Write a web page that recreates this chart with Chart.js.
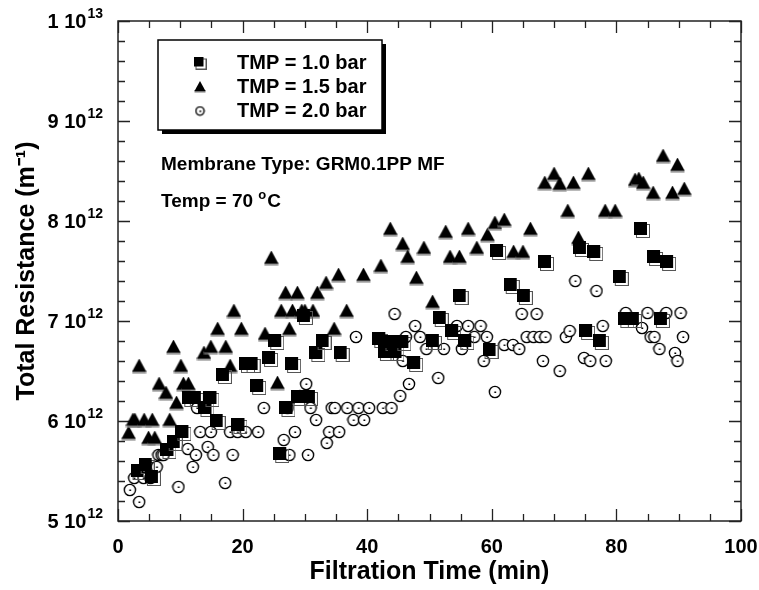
<!DOCTYPE html>
<html>
<head>
<meta charset="utf-8">
<script src="https://cdn.jsdelivr.net/npm/chart.js@4.4.1/dist/chart.umd.min.js"></script>
<style>
  html, body { margin: 0; padding: 0; background: #fff; }
  #chart { display: block; }
</style>
</head>
<body>
<canvas id="chart" width="759" height="590"></canvas>
<script>
// filtration time (min) / total resistance (in 10^12 m^-1)

// TMP = 1.0 bar (squares)
const time10 = [3.3, 4.6, 5.6, 8.1, 9.1, 10.5, 11.6, 12.5, 14.2, 15.0, 16.0, 17.0, 19.5, 20.7, 21.6, 22.5, 24.4, 25.4,
  26.2, 27.2, 28.1, 29.1, 30.0, 30.8, 32.0, 33.0, 35.9, 42.1, 43.0, 43.9, 44.7, 45.8, 47.7, 50.7, 51.8, 53.8, 55.0,
  55.9, 59.8, 61.0, 63.2, 65.3, 68.7, 74.3, 75.3, 76.6, 77.5, 80.7, 81.6, 82.8, 84.1, 86.2, 87.3, 88.3];
const res10 = [5.49, 5.55, 5.43, 5.70, 5.78, 5.88, 6.22, 6.22, 6.12, 6.22, 5.99, 6.45, 5.95, 6.56, 6.56, 6.34, 6.62, 6.79,
  5.66, 6.12, 6.56, 6.23, 7.04, 6.23, 6.67, 6.79, 6.67, 6.81, 6.68, 6.78, 6.68, 6.78, 6.57, 6.79, 7.02, 6.89, 7.24,
  6.79, 6.70, 7.69, 7.35, 7.24, 7.58, 7.72, 6.89, 7.68, 6.79, 7.43, 7.01, 7.01, 7.91, 7.63, 7.01, 7.58];

// TMP = 1.5 bar (triangles)
const time15 = [1.7, 2.4, 2.7, 3.4, 4.2, 4.9, 5.5, 5.9, 6.6, 7.7, 8.3, 8.9, 9.4, 10.1, 10.5, 11.3, 13.8, 14.9, 16.0,
  17.3, 18.0, 18.6, 19.8, 23.6, 24.6, 25.6, 26.2, 26.9, 27.5, 28.0, 28.8, 29.5, 30.0, 31.3, 32.0, 33.4, 34.7, 35.4,
  36.7, 39.4, 42.2, 43.7, 45.7, 46.5, 47.9, 49.1, 50.5, 52.6, 53.3, 54.8, 56.2, 57.6, 59.3, 60.5, 62.0, 63.5, 65.0,
  66.2, 68.5, 70.0, 70.9, 72.2, 73.1, 73.9, 75.5, 78.2, 79.8, 83.0, 83.6, 84.3, 85.9, 87.5, 89.0, 89.8, 90.9];
const res15 = [5.88, 6.01, 6.01, 6.55, 6.01, 5.83, 6.01, 5.83, 6.37, 6.28, 6.01, 6.74, 6.18, 6.55, 6.37, 6.37, 6.68, 6.74, 6.92,
  6.74, 6.55, 7.10, 6.92, 6.87, 7.63, 6.38, 7.10, 7.28, 6.92, 7.10, 7.28, 7.10, 7.10, 7.10, 7.28, 7.38, 6.92, 7.46,
  7.10, 7.46, 7.55, 7.92, 7.77, 7.64, 7.43, 7.73, 7.19, 7.89, 7.64, 7.64, 7.92, 7.73, 7.86, 7.98, 8.01, 7.69, 7.69,
  7.92, 8.38, 8.47, 8.37, 8.10, 8.38, 7.83, 8.47, 8.10, 8.10, 8.41, 8.42, 8.38, 8.28, 8.65, 8.28, 8.56, 8.32];

// TMP = 2.0 bar (open circles)
const time20 = [1.9, 2.6, 3.4, 4.1, 4.9, 5.2, 6.2, 6.5, 7.0, 7.3, 9.7, 11.2, 12.0, 12.5, 12.7, 13.2, 14.4, 14.9, 15.3,
  17.2, 18.0, 18.4, 19.2, 20.5, 22.5, 23.4, 26.6, 27.2, 27.5, 28.4, 29.2, 30.2, 30.5, 30.9, 31.8, 33.5, 33.9, 34.3,
  34.8, 35.5, 36.8, 37.8, 38.2, 38.6, 39.5, 40.3, 42.5, 43.4, 43.9, 44.4, 45.3, 45.7, 46.2, 46.7, 47.7, 48.5, 49.5,
  51.4, 52.3, 54.4, 55.2, 56.2, 57.2, 58.2, 58.7, 59.2, 60.5, 62.0, 63.4, 64.4, 64.8, 65.6, 66.7, 67.2, 67.7, 68.2,
  68.6, 70.9, 71.9, 72.5, 73.4, 74.8, 75.8, 76.8, 77.8, 78.3, 81.5, 84.1, 85.0, 85.5, 86.1, 86.9, 88.0, 89.4, 89.8,
  90.3, 90.7];
const res20 = [5.31, 5.43, 5.19, 5.43, 5.54, 5.43, 5.54, 5.66, 5.66, 5.66, 5.34, 5.72, 5.54, 5.66, 6.13, 5.89, 5.74, 5.89, 5.66,
  5.38, 5.89, 5.66, 5.89, 5.89, 5.89, 6.13, 5.81, 6.13, 5.66, 5.89, 6.25, 6.37, 5.66, 6.13, 6.01, 5.78, 5.89, 6.13,
  6.13, 5.89, 6.13, 6.01, 6.84, 6.13, 6.01, 6.13, 6.13, 6.72, 6.13, 7.07, 6.25, 6.60, 6.84, 6.37, 6.95, 6.84, 6.72,
  6.43, 6.72, 6.95, 6.72, 6.95, 6.84, 6.95, 6.60, 6.84, 6.29, 6.76, 6.76, 6.72, 7.07, 6.84, 6.84, 7.07, 6.84, 6.60,
  6.84, 6.50, 6.84, 6.90, 7.40, 6.63, 6.60, 7.30, 6.95, 6.60, 7.08, 6.93, 7.08, 6.84, 6.84, 6.72, 7.08, 6.68, 6.60,
  7.08, 6.84];

const seriesLabels = ['TMP = 1.0 bar', 'TMP = 1.5 bar', 'TMP = 2.0 bar'];
const xTickValues = [0, 20, 40, 60, 80, 100];
const yTickValues = [5, 6, 7, 8, 9, 10];
// y labels are "mantissa 10^exponent"
const yTickBase = ['5 10', '6 10', '7 10', '8 10', '9 10', '1 10'];
const yTickExp = ['12', '12', '12', '12', '12', '13'];
const xTitle = 'Filtration Time (min)';
const yTitle = 'Total Resistance (m⁻¹)';
const noteMembrane = 'Membrane Type: GRM0.1PP MF';
const noteTemp = ['Temp = 70 ', 'o', 'C'];

const FONT = '"Liberation Sans", Arial, Helvetica, sans-serif';

function toPoints(xs, ys) {
  return xs.map((x, i) => ({ x: x, y: ys[i] }));
}

// marker images
function squareMark(s) {
  const c = document.createElement('canvas');
  c.width = s + 3; c.height = s + 3;
  const g = c.getContext('2d');
  g.strokeStyle = '#555'; g.lineWidth = 1;
  g.strokeRect(2.5, 2.5, s, s);
  g.fillStyle = '#000';
  g.fillRect(0, 0, s, s);
  return c;
}
function triangleMark(s) {
  const c = document.createElement('canvas');
  const h = Math.round(s * 0.9);
  c.width = s + 1; c.height = h + 2;
  const g = c.getContext('2d');
  g.fillStyle = '#777';
  g.fillRect(0.5, h - 1, s, 2.5);
  g.fillStyle = '#000';
  g.beginPath();
  g.moveTo(s / 2 + 0.5, 0);
  g.lineTo(s + 0.5, h);
  g.lineTo(0.5, h);
  g.closePath();
  g.fill();
  return c;
}
function circleMark(s) {
  const c = document.createElement('canvas');
  c.width = s + 2; c.height = s + 2;
  const g = c.getContext('2d');
  const r = s / 2, cx = r + 1;
  g.fillStyle = '#fff';
  g.strokeStyle = '#000'; g.lineWidth = 1.4;
  g.beginPath(); g.arc(cx, cx, r - 0.4, 0, Math.PI * 2); g.fill(); g.stroke();
  g.fillStyle = '#000';
  g.fillRect(cx - 0.6, cx - 0.5, 1.8, 1.5);
  return c;
}

const marks = [squareMark(13), triangleMark(14), circleMark(12)];
const legendMarks = [squareMark(10), triangleMark(11), circleMark(9)];

const frameTicks = {
  id: 'frameTicks',
  beforeDatasetsDraw(chart) {
    const { ctx, chartArea: a, scales: { x, y } } = chart;
    ctx.save();
    ctx.strokeStyle = '#222';
    ctx.lineWidth = 1.5;
    ctx.strokeRect(a.left, a.top, a.right - a.left, a.bottom - a.top);
    ctx.lineWidth = 1.3;
    ctx.beginPath();
    x.ticks.forEach(t => {
      const px = Math.round(x.getPixelForValue(t.value)) + 0.5;
      const len = Math.abs(t.value % 20) < 1e-6 ? 12 : 7;
      ctx.moveTo(px, a.bottom); ctx.lineTo(px, a.bottom - len);
      ctx.moveTo(px, a.top); ctx.lineTo(px, a.top + len);
    });
    y.ticks.forEach(t => {
      const py = Math.round(y.getPixelForValue(t.value)) + 0.5;
      const major = Math.abs(t.value - Math.round(t.value)) < 1e-6;
      const len = major ? 12 : 7;
      ctx.moveTo(a.left, py); ctx.lineTo(a.left + len, py);
      ctx.moveTo(a.right, py); ctx.lineTo(a.right - len, py);
    });
    ctx.stroke();

    // y tick labels with raised exponent
    ctx.fillStyle = '#000';
    ctx.textBaseline = 'middle';
    ctx.textAlign = 'left';
    const right = a.left - 15;
    yTickValues.forEach((v, i) => {
      const py = y.getPixelForValue(v);
      ctx.font = 'bold 14px ' + FONT;
      const ew = ctx.measureText(yTickExp[i]).width;
      ctx.fillText(yTickExp[i], right - ew, py - 7);
      ctx.font = 'bold 20px ' + FONT;
      const bw = ctx.measureText(yTickBase[i]).width;
      ctx.fillText(yTickBase[i], right - ew - 1 - bw, py + 1);
    });
    ctx.restore();
  },
  afterDraw(chart) {
    const { ctx } = chart;
    ctx.save();
    // legend box with drop shadow
    ctx.fillStyle = '#000';
    ctx.fillRect(162, 44, 224, 90);
    ctx.fillStyle = '#fff';
    ctx.fillRect(158, 40, 224, 90);
    ctx.strokeStyle = '#000';
    ctx.lineWidth = 1.5;
    ctx.strokeRect(158, 40, 224, 90);
    ctx.textBaseline = 'middle';
    ctx.fillStyle = '#000';
    ctx.font = 'bold 20px ' + FONT;
    chart.data.datasets.forEach((ds, i) => {
      const yy = 63 + 24 * i;
      const m = legendMarks[i];
      ctx.drawImage(m, 200 - m.width / 2, yy - m.height / 2);
      ctx.fillText(ds.label, 237, yy);
    });
    ctx.font = 'bold 19px ' + FONT;
    ctx.fillText(noteMembrane, 161, 165);
    let tx = 161;
    ctx.fillText(noteTemp[0], tx, 202);
    tx += ctx.measureText(noteTemp[0]).width;
    ctx.font = 'bold 13px ' + FONT;
    ctx.fillText(noteTemp[1], tx, 195);
    tx += ctx.measureText(noteTemp[1]).width + 1;
    ctx.font = 'bold 19px ' + FONT;
    ctx.fillText(noteTemp[2], tx, 202);
    ctx.restore();
  }
};

new Chart(document.getElementById('chart'), {
  type: 'scatter',
  data: {
    datasets: [
      { label: seriesLabels[0], data: toPoints(time10, res10), pointStyle: marks[0] },
      { label: seriesLabels[1], data: toPoints(time15, res15), pointStyle: marks[1] },
      { label: seriesLabels[2], data: toPoints(time20, res20), pointStyle: marks[2] }
    ]
  },
  options: {
    responsive: false,
    animation: false,
    devicePixelRatio: 1,
    layout: { padding: { top: 21, right: 18, left: 0, bottom: 0 } },
    plugins: {
      legend: { display: false },
      tooltip: { enabled: false }
    },
    scales: {
      x: {
        type: 'linear',
        min: 0, max: 100,
        grid: { display: false, drawTicks: false },
        border: { display: false },
        ticks: {
          stepSize: 5, autoSkip: false, maxRotation: 0, padding: 14,
          color: '#000', font: { family: FONT, size: 20, weight: 'bold' },
          callback: v => xTickValues.includes(v) ? String(v) : ''
        },
        title: {
          display: true, text: xTitle, color: '#000',
          font: { family: FONT, size: 25, weight: 'bold' },
          padding: { top: 0, bottom: 3 }
        },
        afterFit: s => { s.height = 69; s.paddingLeft = 0; s.paddingRight = 0; }
      },
      y: {
        min: 5, max: 10,
        grid: { display: false, drawTicks: false },
        border: { display: false },
        ticks: {
          stepSize: 0.2, autoSkip: false, padding: 15,
          callback: () => ''
        },
        title: {
          display: true, text: yTitle, color: '#000',
          font: { family: FONT, size: 25, weight: 'bold' },
          padding: { top: 12, bottom: 0 }
        },
        afterFit: s => { s.width = 118; s.paddingTop = 0; s.paddingBottom = 0; }
      }
    }
  },
  plugins: [frameTicks]
});
</script>
</body>
</html>
